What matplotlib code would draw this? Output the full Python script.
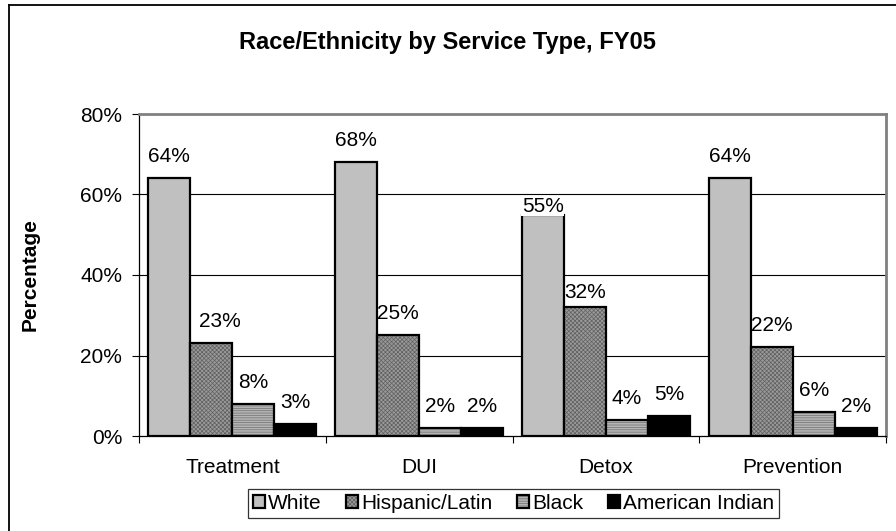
import matplotlib
matplotlib.use("Agg")
import matplotlib.pyplot as plt
import numpy as np
from matplotlib.lines import Line2D

plt.rcParams['font.family'] = ['Liberation Sans', 'DejaVu Sans']
plt.rcParams['hatch.linewidth'] = 0.5

categories = ["Treatment", "DUI", "Detox", "Prevention"]
series_names = ["White", "Hispanic/Latin", "Black", "American Indian"]
white = [64, 68, 55, 64]
hispanic = [23, 25, 32, 22]
black = [8, 2, 4, 6]
american_indian = [3, 2, 5, 2]
y_ticks = [0, 20, 40, 60, 80]

series = [white, hispanic, black, american_indian]
faces = ["#c0c0c0", "#9a9a9a", "#b4b4b4", "#000000"]
hatches = [None, "xxxxxxxx", "-------", None]
hatch_cols = [None, "#606060", "#707070", None]

# label gap above the bar top (points); a couple of labels sit closer
label_gap = 11.5
label_gap_override = {(0, 2): 2.0, (1, 2): 6.5}
label_dx_override = {(1, 0): 6.0}

FS = 15

fig = plt.figure(figsize=(8.96, 5.31), dpi=100)
ax = fig.add_axes([139/896, 1-436/531, (886-139)/896, (436-114)/531])

x = np.arange(len(categories))
w = 0.225
offsets = (np.arange(4) - 1.5) * w
handles = []
for i, vals in enumerate(series):
    bars = ax.bar(x + offsets[i], vals, w, color=faces[i], edgecolor="black",
                  linewidth=1.6, zorder=3, label=series_names[i])
    if hatches[i]:
        for b in bars:
            b.set_hatch(hatches[i])
            b._hatch_color = matplotlib.colors.to_rgba(hatch_cols[i])
    handles.append(bars)
    for j, (xi, v) in enumerate(zip(x + offsets[i], vals)):
        gap = label_gap_override.get((i, j), label_gap)
        dx = label_dx_override.get((i, j), 0.0)
        box = None
        if (i, j) in label_gap_override and i == 0:
            box = dict(boxstyle="square,pad=0.02", fc="white", ec="none")
        ax.annotate(f"{v}%", (xi, v), xytext=(dx, gap), textcoords="offset points",
                    ha="center", va="baseline", fontsize=FS, zorder=5, bbox=box)

ax.set_xlim(-0.5, len(categories) - 0.5)
ax.set_ylim(0, 80)
ax.set_yticks(y_ticks)
ax.set_yticklabels([f"{t}%" for t in y_ticks], fontsize=FS)
for t in y_ticks[1:-1]:
    ax.axhline(t, color="black", linewidth=0.8, zorder=1)

ax.set_xticks(x)
ax.set_xticklabels(categories, fontsize=FS)
ax.tick_params(axis="x", which="major", length=0, pad=16)
ax.set_xticks(np.arange(len(categories) + 1) - 0.5, minor=True)
ax.tick_params(axis="x", which="minor", length=5, width=0.8, direction="out")
ax.tick_params(axis="y", length=5, width=0.8, direction="out", pad=7)

ax.spines["left"].set_color("black")
ax.spines["left"].set_linewidth(0.9)
ax.spines["bottom"].set_color("black")
ax.spines["bottom"].set_linewidth(0.9)
for s in ("top", "right"):
    ax.spines[s].set_color("#808080")
    ax.spines[s].set_linewidth(2.0)

fig.text(30/896, 1-275/531, "Percentage", rotation=90, ha="center", va="center",
         fontsize=FS, fontweight="bold")

fig.text(447/896, 1-42/531, "Race/Ethnicity by Service Type, FY05", ha="center",
         va="center", fontsize=17, fontweight="bold")

leg = fig.legend(handles=handles, labels=series_names, loc="center",
                 bbox_to_anchor=(513.5/896, 1-503.5/531), ncol=4, fontsize=FS,
                 frameon=True, fancybox=False, edgecolor="black",
                 handlelength=0.6, handleheight=0.6, handletextpad=0.15,
                 columnspacing=1.15, borderpad=0.25, borderaxespad=0)
leg.get_frame().set_linewidth(0.9)

# outer chart border
fig.add_artist(Line2D([9/896, 9/896], [0, 1-5/531], color="black", linewidth=1.3,
                      transform=fig.transFigure))
fig.add_artist(Line2D([9/896, 1], [1-5/531, 1-5/531], color="black", linewidth=1.3,
                      transform=fig.transFigure))

fig.savefig("out.png", dpi=100)
